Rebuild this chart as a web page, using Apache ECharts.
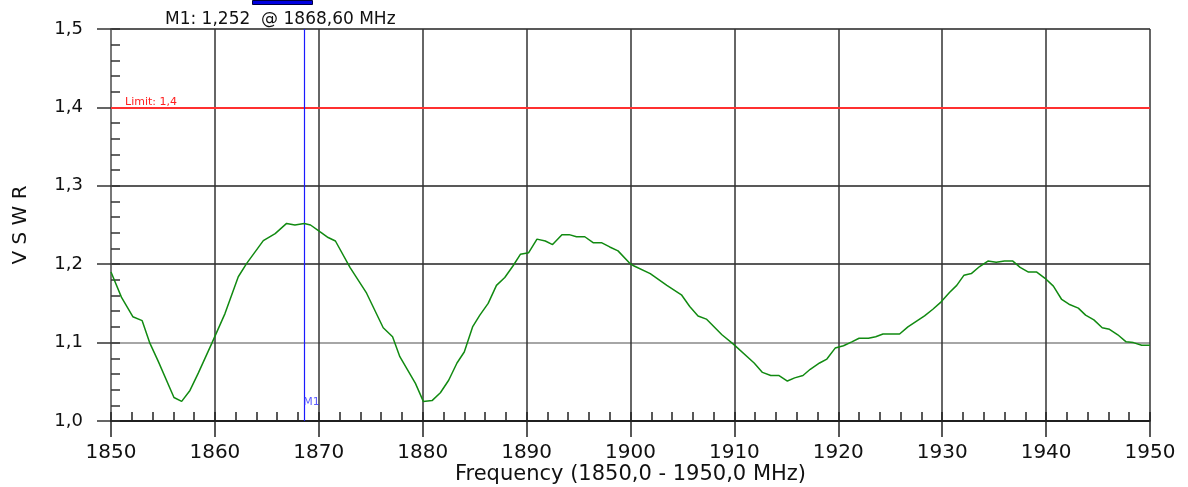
<!DOCTYPE html>
<html>
<head>
<meta charset="utf-8">
<script src="https://cdn.jsdelivr.net/npm/echarts@6/dist/echarts.min.js"></script>
<style>
html, body { margin: 0; padding: 0; background: #fff; }
#main { width: 1188px; height: 487px; }
</style>
</head>
<body>
<div id="main"></div>
<script>
var freq = [1850.0, 1851.0, 1852.1, 1853.0, 1853.75, 1854.55, 1856.06, 1856.8, 1857.6, 1858.4,
    1859.7, 1860.97, 1862.25, 1863.06, 1864.66, 1865.8, 1866.9, 1867.7, 1868.6, 1869.2,
    1870.1, 1870.9, 1871.6, 1873.0, 1874.6, 1876.2, 1877.1, 1877.8, 1879.3, 1880.06,
    1880.9, 1881.7, 1882.5, 1883.3, 1884.0, 1884.8, 1885.5, 1886.3, 1887.1, 1887.9,
    1888.7, 1889.4, 1890.2, 1891.0, 1891.8, 1892.5, 1893.4, 1894.1, 1894.8, 1895.6,
    1896.4, 1897.2, 1898.0, 1898.8, 1899.95, 1900.3, 1901.9, 1903.5, 1904.9, 1905.7,
    1906.5, 1907.3, 1908.8, 1909.9, 1911.9, 1912.7, 1913.5, 1914.3, 1915.1, 1915.8,
    1916.6, 1917.3, 1918.2, 1918.9, 1919.7, 1920.5, 1921.3, 1922.0, 1922.9, 1923.6,
    1924.3, 1925.1, 1925.9, 1926.7, 1927.5, 1928.3, 1929.1, 1929.9, 1930.7, 1931.4,
    1932.1, 1932.8, 1933.6, 1934.4, 1935.2, 1936.0, 1936.8, 1937.5, 1938.3, 1939.1,
    1939.9, 1940.7, 1941.5, 1942.2, 1943.1, 1943.8, 1944.6, 1945.4, 1946.1, 1946.9,
    1947.7, 1948.4, 1949.2, 1950.0];
var vswr = [1.190, 1.158, 1.133, 1.128, 1.099, 1.076, 1.030, 1.025, 1.039, 1.061,
    1.099, 1.137, 1.184, 1.201, 1.230, 1.239, 1.252, 1.250, 1.252, 1.250,
    1.2415, 1.234, 1.2296, 1.196, 1.163, 1.119, 1.1075, 1.082, 1.048, 1.025,
    1.026, 1.036, 1.052, 1.074, 1.088, 1.120, 1.135, 1.150, 1.173, 1.183,
    1.198, 1.2126, 1.2147, 1.232, 1.2296, 1.225, 1.2377, 1.2377, 1.235, 1.235,
    1.2275, 1.2275, 1.222, 1.217, 1.201, 1.198, 1.188, 1.173, 1.161, 1.146,
    1.134, 1.130, 1.110, 1.098, 1.074, 1.062, 1.058, 1.058, 1.051, 1.055,
    1.058, 1.066, 1.074, 1.079, 1.093, 1.096, 1.101, 1.1055, 1.1055, 1.1075,
    1.111, 1.111, 1.111, 1.120, 1.127, 1.134, 1.1425, 1.152, 1.164, 1.173,
    1.186, 1.188, 1.197, 1.204, 1.2024, 1.204, 1.204, 1.196, 1.190, 1.190,
    1.182, 1.172, 1.155, 1.149, 1.144, 1.135, 1.129, 1.119, 1.117, 1.110,
    1.101, 1.100, 1.0966, 1.0966];
var limitValue = 1.4;
var marker = {name: 'M1', freq: 1868.6, value: 1.252};

var fontName = 'DejaVu Sans';
function komma(v, n) {
    return v.toFixed(n).replace('.', ',');
}

var pts = [];
for (var i = 0; i < freq.length; i++) {
    pts.push([freq[i], vswr[i]]);
}

var myChart = echarts.init(document.getElementById('main'));
var option = {
    backgroundColor: '#fff',
    animation: false,
    title: {
        text: marker.name + ': ' + komma(marker.value, 3) + '  @ ' + komma(marker.freq, 2) + ' MHz',
        left: 165,
        top: 11,
        padding: 0,
        textStyle: {color: '#111', fontSize: 17, fontWeight: 'normal', fontFamily: fontName}
    },
    graphic: [{
        type: 'rect',
        left: 252, top: 0,
        shape: {width: 60, height: 4},
        style: {fill: '#0000e0', stroke: '#000040', lineWidth: 1}
    }],
    grid: {left: 111, right: 38, top: 29, bottom: 66, outerBoundsMode: 'none'},
    xAxis: [{
        type: 'value',
        min: 1850, max: 1950, interval: 10,
        name: 'Frequency (1850,0 - 1950,0 MHz)',
        nameLocation: 'middle',
        nameGap: 43,
        nameMoveOverlap: false,
        nameTextStyle: {color: '#111', fontSize: 21, fontFamily: fontName},
        axisLine: {show: true, onZero: false, lineStyle: {color: '#111', width: 1.5}},
        axisTick: {show: true, length: 16, lineStyle: {color: '#222', width: 1.5}},
        axisLabel: {
            color: '#111', fontSize: 20, fontFamily: fontName, margin: 22,
            formatter: function (v) { return String(v); }
        },
        splitLine: {show: true, lineStyle: {color: '#333', width: 1.5}}
    }, {
        // kleine striche unten
        type: 'value',
        position: 'bottom',
        min: 1850, max: 1950, interval: 2,
        axisLine: {show: false},
        axisTick: {show: true, inside: true, length: 9, lineStyle: {color: '#222', width: 1.5}},
        axisLabel: {show: false},
        splitLine: {show: false}
    }],
    yAxis: [{
        type: 'value',
        min: 1.0, max: 1.5, interval: 0.1,
        name: 'V S W R',
        nameLocation: 'middle',
        nameGap: 80,
        nameTextStyle: {color: '#111', fontSize: 20, fontFamily: fontName},
        axisLine: {show: true, onZero: false, lineStyle: {color: '#777', width: 2}},
        axisTick: {show: true, length: 14, lineStyle: {color: '#333', width: 1.5}},
        axisLabel: {
            color: '#111', fontSize: 18, fontFamily: fontName, margin: 28,
            formatter: function (v) { return komma(v, 1); }
        },
        splitLine: {show: true, lineStyle: {color: ['#111', '#888', '#222', '#222', '#222', '#222'], width: 1.5}}
    }, {
        // kleine striche links
        type: 'value',
        position: 'left',
        min: 1.0, max: 1.5, interval: 0.02,
        axisLine: {show: false},
        axisTick: {show: true, inside: true, length: 9, lineStyle: {color: '#333', width: 1.5}},
        axisLabel: {show: false},
        splitLine: {show: false}
    }],
    series: [{
        name: 'VSWR',
        type: 'line',
        data: pts,
        symbol: 'none',
        lineStyle: {color: '#118a11', width: 1.5},
        z: 5
    }, {
        name: 'Limit',
        type: 'line',
        data: [],
        markLine: {
            silent: true,
            symbol: 'none',
            lineStyle: {color: '#ff3030', width: 2, type: 'solid'},
            label: {
                show: true,
                position: 'insideStartTop',
                distance: [14, 0],
                formatter: 'Limit: ' + komma(limitValue, 1),
                color: '#ff2020',
                fontSize: 11,
                fontFamily: fontName
            },
            data: [{yAxis: limitValue}]
        },
        z: 4
    }, {
        name: marker.name,
        type: 'line',
        data: [],
        markLine: {
            silent: true,
            symbol: 'none',
            lineStyle: {color: '#1a1aff', width: 1.2, type: 'solid'},
            label: {show: false},
            data: [{xAxis: marker.freq}]
        },
        z: 6
    }, {
        name: marker.name + ' label',
        type: 'scatter',
        data: [[marker.freq, 1.0]],
        symbolSize: 0,
        label: {
            show: true,
            position: 'insideLeft',
            formatter: marker.name,
            color: '#3333ff',
            fontSize: 11,
            fontFamily: fontName,
            offset: [-6, -19]
        },
        z: 7
    }]
};
myChart.setOption(option);
</script>
</body>
</html>
